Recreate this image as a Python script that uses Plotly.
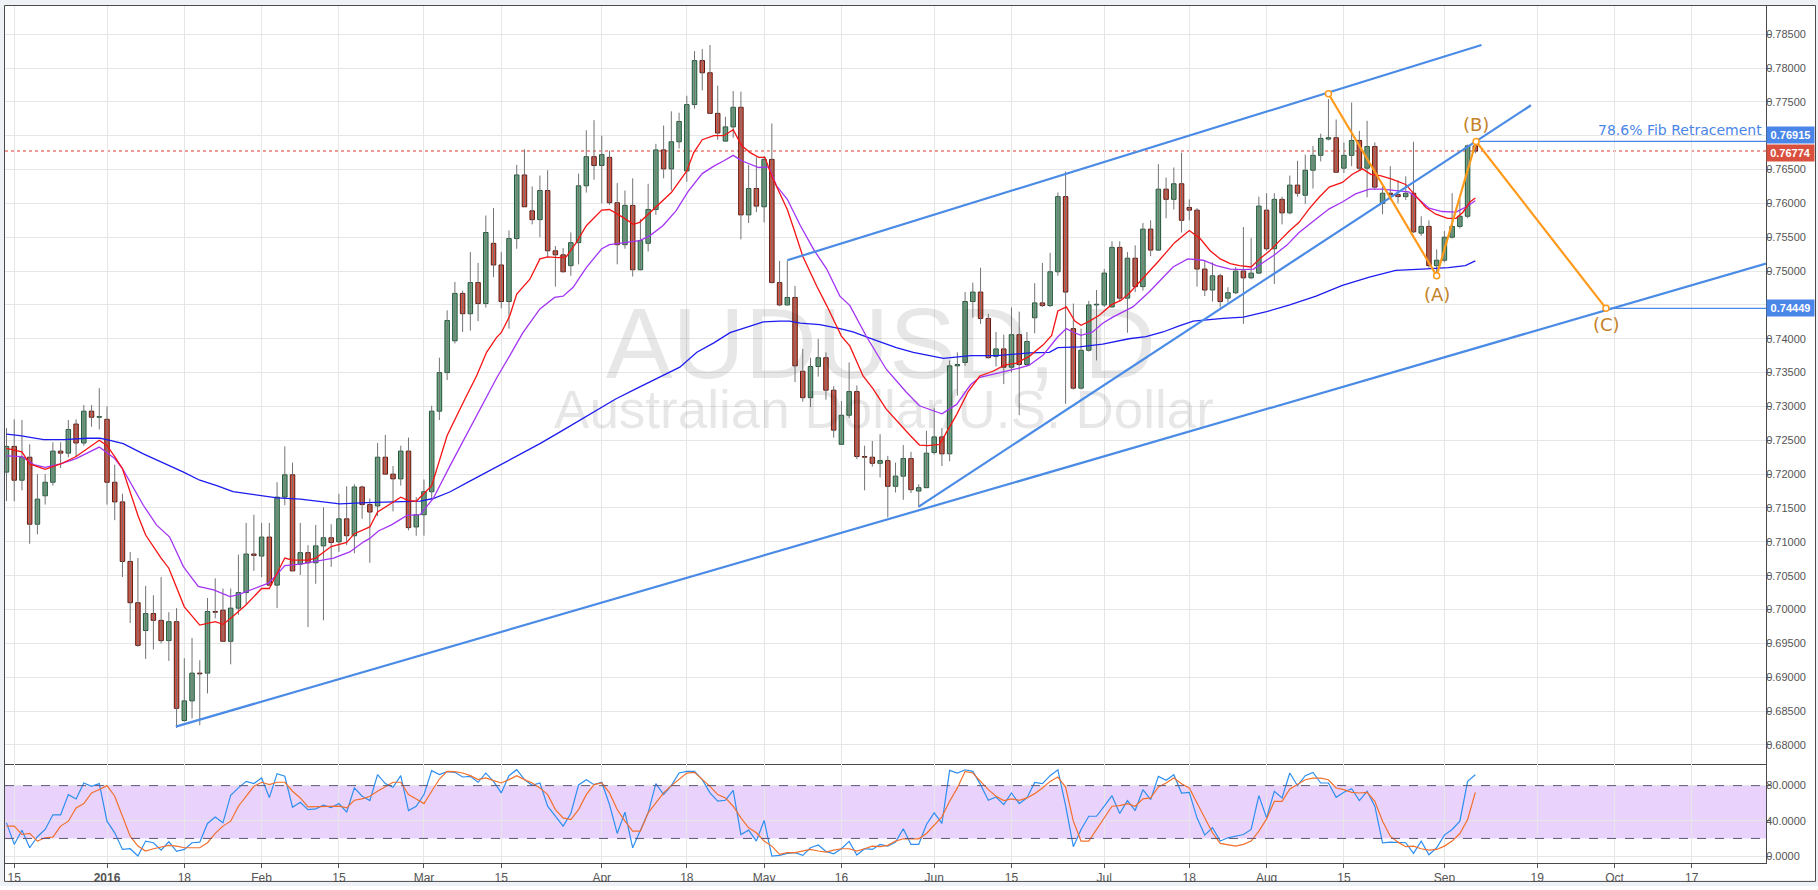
import plotly.graph_objects as go

# ---------------- data (daily AUDUSD, bar index 0 = 2015-12-14) ----------------
opens = [0.7203,0.7241,0.7191,0.7225,0.7126,0.7168,0.7188,0.7234,0.7231,0.7274,
0.7246,0.7293,0.7284,0.7281,0.7188,0.7159,0.7071,0.7010,0.6969,0.6994,
0.6984,0.6954,0.6982,0.6836,0.6865,0.6906,0.6906,0.6997,0.6999,0.6953,
0.7002,0.7025,0.7082,0.7079,0.7107,0.7036,0.7166,0.7199,0.7067,0.7084,
0.7069,0.7094,0.7106,0.7100,0.7134,0.7109,0.7181,0.7155,0.7153,0.7225,
0.7200,0.7193,0.7234,0.7122,0.7140,0.7174,0.7293,0.7350,0.7397,0.7467,
0.7437,0.7483,0.7452,0.7541,0.7509,0.7455,0.7548,0.7642,0.7589,0.7576,
0.7619,0.7530,0.7524,0.7508,0.7542,0.7626,0.7669,0.7656,0.7668,0.7601,
0.7539,0.7597,0.7502,0.7541,0.7591,0.7679,0.7651,0.7691,0.7648,0.7746,
0.7811,0.7793,0.7733,0.7692,0.7713,0.7742,0.7583,0.7622,0.7595,0.7665,
0.7483,0.7450,0.7461,0.7352,0.7313,0.7359,0.7372,0.7324,0.7244,0.7287,
0.7322,0.7226,0.7225,0.7216,0.7220,0.7182,0.7197,0.7223,0.7175,0.7180,
0.7232,0.7255,0.7230,0.7360,0.7365,0.7455,0.7469,0.7430,0.7374,0.7385,
0.7358,0.7406,0.7362,0.7431,0.7453,0.7449,0.7499,0.7610,0.7415,0.7327,
0.7383,0.7450,0.7450,0.7447,0.7535,0.7460,0.7519,0.7477,0.7562,0.7531,
0.7621,0.7606,0.7629,0.7594,0.7590,0.7503,0.7472,0.7493,0.7460,0.7468,
0.7500,0.7490,0.7497,0.7590,0.7533,0.7606,0.7586,0.7627,0.7612,0.7649,
0.7671,0.7695,0.7697,0.7652,0.7671,0.7693,0.7652,0.7684,0.7600,0.7615,
0.7613,0.7610,0.7615,0.7556,0.7566,0.7508,0.7516,0.7550,0.7566,0.7581,
0.7685]
highs = [0.7268,0.7281,0.7280,0.7244,0.7200,0.7200,0.7247,0.7247,0.7280,0.7281,
0.7302,0.7302,0.7327,0.7300,0.7214,0.7171,0.7085,0.7076,0.7035,0.7021,
0.7048,0.6996,0.7002,0.6928,0.6958,0.6925,0.7017,0.7046,0.7031,0.7031,
0.7081,0.7128,0.7140,0.7128,0.7128,0.7188,0.7241,0.7217,0.7128,0.7095,
0.7125,0.7151,0.7126,0.7171,0.7182,0.7185,0.7183,0.7164,0.7246,0.7258,
0.7212,0.7242,0.7254,0.7166,0.7192,0.7301,0.7372,0.7442,0.7484,0.7471,
0.7528,0.7512,0.7582,0.7593,0.7528,0.7560,0.7657,0.7680,0.7625,0.7641,
0.7649,0.7537,0.7534,0.7557,0.7644,0.7708,0.7723,0.7700,0.7678,0.7630,
0.7619,0.7637,0.7577,0.7629,0.7688,0.7715,0.7736,0.7734,0.7759,0.7825,
0.7828,0.7834,0.7774,0.7728,0.7766,0.7765,0.7657,0.7668,0.7670,0.7718,
0.7515,0.7515,0.7478,0.7385,0.7372,0.7400,0.7380,0.7330,0.7308,0.7365,
0.7331,0.7242,0.7249,0.7259,0.7227,0.7217,0.7243,0.7233,0.7185,0.7264,
0.7298,0.7268,0.7368,0.7380,0.7469,0.7483,0.7505,0.7437,0.7410,0.7406,
0.7446,0.7440,0.7410,0.7482,0.7512,0.7527,0.7616,0.7647,0.7452,0.7415,
0.7456,0.7472,0.7503,0.7544,0.7544,0.7528,0.7538,0.7571,0.7575,0.7658,
0.7638,0.7653,0.7675,0.7606,0.7593,0.7516,0.7513,0.7496,0.7476,0.7506,
0.7565,0.7549,0.7610,0.7615,0.7615,0.7610,0.7641,0.7663,0.7672,0.7685,
0.7703,0.7754,0.7724,0.7690,0.7749,0.7707,0.7722,0.7690,0.7625,0.7655,
0.7634,0.7640,0.7691,0.7581,0.7575,0.7532,0.7559,0.7615,0.7606,0.7687,
0.76915]
lows = [0.7160,0.7160,0.7176,0.7097,0.7111,0.7155,0.7183,0.7209,0.7225,0.7225,
0.7242,0.7270,0.7266,0.7155,0.7132,0.7048,0.6980,0.6945,0.6927,0.6941,
0.6950,0.6924,0.6825,0.6834,0.6839,0.6829,0.6876,0.6987,0.6952,0.6919,
0.6992,0.7007,0.7057,0.7048,0.7036,0.7002,0.7154,0.7057,0.7051,0.6974,
0.7038,0.6984,0.7063,0.7085,0.7095,0.7083,0.7134,0.7069,0.7138,0.7199,
0.7145,0.7183,0.7117,0.7109,0.7109,0.7164,0.7280,0.7339,0.7393,0.7410,
0.7412,0.7426,0.7446,0.7491,0.7445,0.7415,0.7533,0.7595,0.7569,0.7550,
0.7520,0.7477,0.7498,0.7493,0.7510,0.7616,0.7635,0.7600,0.7598,0.7510,
0.7533,0.7492,0.7501,0.7529,0.7583,0.7637,0.7619,0.7681,0.7632,0.7740,
0.7767,0.7732,0.7694,0.7692,0.7697,0.7547,0.7571,0.7587,0.7572,0.7482,
0.7448,0.7449,0.7336,0.7307,0.7299,0.7344,0.7310,0.7254,0.7243,0.7283,
0.7222,0.7176,0.7211,0.7195,0.7136,0.7173,0.7162,0.7172,0.7151,0.7180,
0.7229,0.7212,0.7219,0.7316,0.7360,0.7431,0.7422,0.7371,0.7359,0.7333,
0.7350,0.7287,0.7359,0.7408,0.7447,0.7447,0.7493,0.7304,0.7325,0.7325,
0.7381,0.7368,0.7447,0.7446,0.7455,0.7409,0.7469,0.7471,0.7522,0.7530,
0.7578,0.7591,0.7557,0.7575,0.7477,0.7463,0.7455,0.7446,0.7454,0.7466,
0.7422,0.7488,0.7496,0.7530,0.7481,0.7569,0.7584,0.7610,0.7599,0.7622,
0.7662,0.7693,0.7645,0.7645,0.7655,0.7648,0.7609,0.7620,0.7584,0.7605,
0.7600,0.7605,0.7556,0.7552,0.7505,0.7490,0.7513,0.7548,0.7563,0.7578,
0.7674]
closes = [0.7241,0.7191,0.7225,0.7126,0.7163,0.7188,0.7234,0.7231,0.7266,0.7246,
0.7293,0.7284,0.7285,0.7188,0.7159,0.7071,0.7010,0.6947,0.6994,0.6984,
0.6954,0.6982,0.6854,0.6865,0.6906,0.6905,0.6997,0.6996,0.6953,0.7002,
0.7025,0.7082,0.7080,0.7107,0.7036,0.7166,0.7199,0.7057,0.7084,0.7069,
0.7094,0.7106,0.7099,0.7134,0.7109,0.7181,0.7155,0.7144,0.7225,0.7200,
0.7193,0.7234,0.7121,0.7140,0.7174,0.7293,0.7350,0.7427,0.7467,0.7437,
0.7483,0.7452,0.7557,0.7509,0.7455,0.7548,0.7642,0.7595,0.7576,0.7619,
0.7530,0.7524,0.7499,0.7542,0.7626,0.7669,0.7656,0.7672,0.7601,0.7539,
0.7597,0.7502,0.7545,0.7591,0.7679,0.7651,0.7691,0.7721,0.7746,0.7811,
0.7793,0.7733,0.7704,0.7713,0.7742,0.7583,0.7622,0.7596,0.7665,0.7483,
0.7450,0.7461,0.7360,0.7313,0.7359,0.7372,0.7324,0.7265,0.7287,0.7322,
0.7226,0.7225,0.7216,0.7220,0.7182,0.7197,0.7223,0.7177,0.7180,0.7231,
0.7255,0.7230,0.7360,0.7362,0.7455,0.7469,0.7430,0.7372,0.7385,0.7358,
0.7406,0.7362,0.7396,0.7453,0.7449,0.7499,0.7610,0.7469,0.7327,0.7383,
0.7450,0.7451,0.7497,0.7535,0.7460,0.7519,0.7477,0.7562,0.7531,0.7621,
0.7606,0.7629,0.7575,0.7590,0.7503,0.7472,0.7493,0.7455,0.7468,0.7500,
0.7490,0.7497,0.7596,0.7533,0.7606,0.7586,0.7627,0.7615,0.7649,0.7671,
0.7696,0.7697,0.7646,0.7671,0.7693,0.7652,0.7684,0.7624,0.7615,0.7613,
0.7610,0.7615,0.7558,0.7566,0.7508,0.7516,0.7550,0.7566,0.7581,0.7685,
0.76774]

# moving averages (bar index, value)
fast_ma_x = [0,2,3,5,7,9,12,13,14,15,17,18,20,21,23,25,27,28,29,31,33,34,36,37,39,40,42,44,45,47,48,51,52,53,55,57,
59.3,60.8,62.1,63.4,64,65.1,66,67.7,69,70,71.4,72.4,73.7,75,77,78,79.8,81.1,81.9,83.2,84.5,86,88,
88.9,90,91.5,92.8,94,95.1,96.2,97.3,98.1,99,101,102,103,104.8,106.1,108,109.1,110.8,112.1,113.8,115.1,116.9,118.1,119.2,120.7,
121.2,122.9,124.4,125.9,127.6,129.1,130.6,132.3,134.1,135.2,136,137.1,138.2,139,140.1,141.4,142.9,144.2,145.2,147,148.9,151.1,153,
154.4,155.7,157,158.3,159.5,161,162.1,163.4,164.7,166,167.2,168.5,169.8,171.1,172.8,174.1,175.4,176.5,177.7,179.2,181,182.3,183.6,184.9,186.4,187.5,188.4,189.3,190]
fast_ma = [0.7238,0.7233,0.7215,0.7207,0.7215,0.7226,0.7250,0.7242,0.7226,0.7208,0.7139,0.7110,0.7076,0.7061,0.7004,0.6977,0.6982,0.6978,0.6987,0.7007,0.7031,0.7031,0.7076,0.7073,0.7073,0.7076,0.7093,0.7099,0.7112,0.7122,0.7144,0.7166,0.7161,0.7160,0.7183,0.7257,
0.7311,0.7345,0.7380,0.7402,0.7409,0.7434,0.7466,0.7488,0.7518,0.7521,0.7520,0.7521,0.7542,0.7567,0.7590,0.7591,0.7579,0.7569,0.7572,0.7586,0.7599,0.7616,0.7648,
0.7675,0.7694,0.7700,0.7700,0.7709,0.7685,0.7675,0.7668,0.7668,0.7640,0.7591,0.7557,0.7522,0.7478,0.7449,0.7404,0.7389,0.7345,0.7326,0.7296,0.7279,0.7257,0.7243,0.7242,0.7244,
0.7254,0.7288,0.7322,0.7345,0.7352,0.7361,0.7364,0.7374,0.7391,0.7405,0.7441,0.7447,0.7426,0.7420,0.7426,0.7435,0.7450,0.7457,0.7467,0.7489,0.7513,0.7542,0.7560,
0.7548,0.7530,0.7518,0.7511,0.7508,0.7506,0.7518,0.7530,0.7545,0.7560,0.7572,0.7592,0.7609,0.7624,0.7631,0.7643,0.7651,0.7643,0.7641,0.7636,0.7628,0.7611,0.7594,0.7584,0.7578,0.7578,0.7587,0.7602,0.7608]

mid_ma_x = [0,2,3.5,5,7,9,12,13,14,15,17.7,19.4,21.1,22.9,24.8,26.8,28.9,30,31.9,33.9,35,36,38,40.1,42.3,44.4,46.2,47,48.1,49.8,51.8,53.5,55.2,57.4,
61.9,63.4,65.1,66.8,69,70.9,72,73.3,75,77,78,79.8,81.9,83.2,84.9,86.6,88.2,
90,91.5,92.8,94,95.1,96.2,97.3,98.6,99.6,101,102.7,104.4,106.1,107.8,109.1,111.2,113.8,116.4,118.1,119.8,
121,122.9,124.7,125.9,128.1,129.8,131.1,132.3,134.1,136,137.1,137.9,139,140.5,141.8,143.1,145.7,147.8,149.1,150.9,152.8,
154.8,156.5,158.3,160,161.3,162.6,163.9,165.6,167.2,169.4,171.1,172.8,174.5,176.3,178,179.7,181.4,182.7,184,185.7,187.5,188.7,190]
mid_ma = [0.7227,0.7226,0.7214,0.7210,0.7215,0.7223,0.7240,0.7232,0.7223,0.7208,0.7154,0.7125,0.7107,0.7063,0.7034,0.7029,0.7019,0.7022,0.7030,0.7039,0.7052,0.7065,0.7067,0.7071,0.7076,0.7085,0.7100,0.7105,0.7116,0.7125,0.7139,0.7140,0.7164,0.7213,
0.7311,0.7342,0.7375,0.7409,0.7444,0.7461,0.7463,0.7476,0.7505,0.7533,0.7539,0.7542,0.7545,0.7552,0.7567,0.7589,0.7618,
0.7644,0.7655,0.7663,0.7671,0.7663,0.7658,0.7653,0.7654,0.7626,0.7606,0.7567,0.7532,0.7503,0.7463,0.7449,0.7404,0.7355,0.7321,0.7301,0.7294,
0.7289,0.7303,0.7332,0.7343,0.7349,0.7353,0.7357,0.7361,0.7376,0.7403,0.7415,0.7410,0.7405,0.7410,0.7423,0.7432,0.7447,0.7469,0.7484,0.7506,0.7518,
0.7516,0.7508,0.7503,0.7502,0.7503,0.7513,0.7523,0.7538,0.7557,0.7577,0.7592,0.7602,0.7614,0.7621,0.7621,0.7619,0.7617,0.7606,0.7593,0.7588,0.7587,0.7594,0.7604]

slow_ma_x = [0,1.75,4.8,7.5,10.4,12.1,13.4,15.1,17.7,20.7,22.9,25,27.2,29.3,32.8,35,38,41,43.1,46.6,
50.9,53.5,55.2,57.4,60,63,66,69,72,75,78.8,81.4,84.9,87.1,89.3,91.5,93.6,95.8,97.9,100,
101.3,102.7,105.2,107.8,109.5,112.1,115.1,117.3,119.5,121.2,124.7,128.1,132.3,134.9,136,138.8,141.8,145.2,147.4,149.6,
151.7,153.5,157.4,160,163,166,169.4,172.8,176.3,179.7,183.1,186.5,188.7,190]
slow_ma = [0.7259,0.7257,0.7251,0.7251,0.7253,0.7253,0.7250,0.7245,0.7230,0.7215,0.7203,0.7191,0.7183,0.7174,0.7169,0.7165,0.7163,0.7159,0.7156,0.7158,
0.7159,0.7160,0.7164,0.7174,0.7190,0.7208,0.7226,0.7245,0.7265,0.7285,0.7311,0.7326,0.7345,0.7358,0.7380,0.7394,0.7409,0.7417,0.7425,0.7426,
0.7426,0.7423,0.7421,0.7415,0.7410,0.7399,0.7387,0.7380,0.7375,0.7371,0.7375,0.7375,0.7379,0.7380,0.7387,0.7388,0.7392,0.7400,0.7403,0.7410,
0.7419,0.7426,0.7430,0.7432,0.7440,0.7450,0.7463,0.7479,0.7491,0.7501,0.7503,0.7505,0.7508,0.7515]

# stochastic %K / %D (one value per bar)
stoch_k = [37.7,13.2,29.4,9.4,21.9,30.2,46.8,46.8,69.8,64.9,
83.0,79.2,82.3,39.6,26.4,7.5,8.3,0,17.0,15.1,
6.8,16.2,5.3,7.5,15.1,15.8,37.0,44.2,37.7,69.1,
77.4,84.9,82.3,88.7,66.4,93.6,90.6,55.5,61.1,52.8,
53.6,57.7,55.1,59.6,49.8,77.4,67.9,63.0,92.5,82.3,
78.1,91.3,51.7,56.6,69.8,97.0,92.5,95.8,95.1,89.8,
90.6,83.8,94.3,84.9,71.7,91.3,98.1,86.8,80.4,83.0,
56.6,45.3,34.0,48.3,80.8,86.8,81.1,83.8,58.5,25.7,
49.8,9.4,28.3,49.1,82.3,69.8,80.0,94.3,96.2,96.2,
86.8,71.7,62.3,63.4,74.7,24.5,29.4,17.0,40.4,0,
0.8,3.0,3.8,0.8,9.4,12.5,5.3,2.6,8.3,16.6,
1.1,8.3,7.5,13.2,11.3,15.8,30.9,13.2,13.2,35.8,
49.0,37.0,97.3,94.3,98.0,96.2,81.1,63.3,67.1,58.4,
71.6,59.6,66.0,83.7,82.2,91.3,98.0,57.3,10.6,30.2,
45.2,45.2,56.6,68.6,48.3,63.0,51.7,75.4,64.1,90.5,
86.0,92.4,71.6,72.4,43.4,23.8,32.1,17.0,20.7,22.6,
24.5,30.2,68.6,43.4,73.5,66.0,94.3,79.9,91.3,95.0,
83.0,83.0,66.7,72.4,76.5,63.0,73.5,56.6,15.1,15.8,
15.8,15.1,3.0,17.0,1.5,9.4,23.8,30.2,39.6,84.8,
92.4]
stoch_d = [34.0,34.0,24.5,25.7,17.0,20.8,21.5,34.0,39.6,54.7,
59.6,71.7,75.5,80.0,67.9,45.3,22.6,11.3,5.7,8.3,
10.6,12.1,11.3,9.4,9.4,9.4,15.1,25.7,34.0,39.6,
56.6,67.9,79.2,83.8,81.1,83.8,83.8,73.6,66.0,55.8,
55.8,55.8,56.6,56.6,54.7,63.4,64.9,67.9,73.6,79.2,
83.8,83.8,69.8,64.9,59.6,73.6,87.5,96.2,95.8,94.3,
91.3,86.8,88.7,85.7,83.0,86.8,91.3,86.8,83.0,77.4,
69.8,52.8,43.4,41.5,52.8,69.8,81.1,83.0,71.7,52.8,
39.6,28.3,28.3,49.1,60.4,71.7,80.0,86.8,94.3,95.1,
87.5,79.2,69.8,66.0,56.6,43.4,32.1,26.4,17.0,11.3,
1.9,3.8,3.8,5.7,7.5,5.7,4.5,6.8,8.3,8.3,
5.7,8.3,11.3,10.6,12.1,17.0,19.6,19.6,19.6,25.6,
34.7,44.5,62.2,77.4,96.2,94.3,84.8,75.4,67.9,63.0,
64.9,63.3,66.0,70.9,77.4,84.8,89.7,78.4,39.6,17.0,
17.0,30.2,43.4,56.6,57.3,59.6,56.6,64.9,66.0,78.4,
83.0,88.6,82.2,77.3,60.3,43.4,26.4,14.3,13.2,11.3,
13.2,17.0,28.3,42.2,62.2,62.2,76.2,81.1,86.7,88.6,
88.6,86.7,77.3,75.4,72.4,71.6,72.4,62.2,39.6,22.6,
15.8,10.6,11.3,8.3,6.8,7.5,11.3,17.0,25.6,41.5,
72.4]

# drawings (bar index, price)
support_x = [21.9, 227.6];  support_y = [0.6827, 0.7511]
channel_x = [101.0, 190.8]; channel_y = [0.7516, 0.7834]
wedge_x = [118.0, 197.2];   wedge_y = [0.7152, 0.7745]
abc_x = [171.0, 185.0, 190.1, 206.9]
abc_y = [0.7762, 0.7493, 0.76915, 0.74449]
abc_labels = ["(A)", "(B)", "(C)"]
abc_label_x = [185.0, 190.1, 207.0]
abc_label_y = [0.74650, 0.77160, 0.74210]
fib_level = 0.76915
target_level = 0.74449
last_price = 0.76774

tick_idx = [1, 13, 23, 33, 43, 54, 64, 77, 88, 98, 108, 120, 130, 142, 153, 163, 173, 186, 198, 208, 218]
tick_text = ["15", "<b>2016</b>", "18", "Feb", "15", "Mar", "15", "Apr", "18", "May", "16",
             "Jun", "15", "Jul", "18", "Aug", "15", "Sep", "19", "Oct", "17"]
price_ticks = [round(0.680 + 0.005 * k, 3) for k in range(22)]
hidden_price_labels = [0.770, 0.745]   # covered by the price boxes in the original

# ---------------- figure ----------------
X0, X1 = -0.194, 227.6
FONT = "Liberation Sans, Arial, sans-serif"
GRID = "#e6e6e6"
FRAME = "#4a4a4a"
TXT = "#555555"

xs = list(range(len(opens)))
UP_FILL, UP_LINE = "#6ba583", "#225437"
DN_FILL, DN_LINE = "#d75442", "#5b1a13"
body_base = [min(o, c) for o, c in zip(opens, closes)]
body_h = [max(abs(c - o), 0.00004) for o, c in zip(opens, closes)]
fills = [UP_FILL if c >= o else DN_FILL for o, c in zip(opens, closes)]
edges = [UP_LINE if c >= o else DN_LINE for o, c in zip(opens, closes)]
wick_x, wick_y = [], []
for i in xs:
    wick_x += [i, i, None]
    wick_y += [lows[i], highs[i], None]

price_ticktext = ["" if v in hidden_price_labels else "%.5f" % v for v in price_ticks]

fig = go.Figure()

# watermark
fig.add_trace(go.Scatter(x=[113.1], y=[0.73790], mode="text", text=["AUDUSD, D"],
                         textfont=dict(family=FONT, size=100, color="rgba(0,0,0,0.095)"),
                         textposition="middle center", hoverinfo="skip"))
fig.add_trace(go.Scatter(x=[113.5], y=[0.72870], mode="text", text=["Australian Dollar/U.S. Dollar"],
                         textfont=dict(family=FONT, size=53, color="rgba(0,0,0,0.095)"),
                         textposition="middle center", hoverinfo="skip"))

# candles
fig.add_trace(go.Scatter(x=wick_x, y=wick_y, mode="lines",
                         line=dict(color="#737375", width=1), hoverinfo="skip"))
fig.add_trace(go.Bar(x=xs, y=body_h, base=body_base, width=0.58,
                     marker=dict(color=fills, line=dict(color=edges, width=1))))

# moving averages
fig.add_trace(go.Scatter(x=slow_ma_x, y=slow_ma, mode="lines", line=dict(color="#1c1cf0", width=1.3)))
fig.add_trace(go.Scatter(x=mid_ma_x, y=mid_ma, mode="lines", line=dict(color="#a335f5", width=1.3)))
fig.add_trace(go.Scatter(x=fast_ma_x, y=fast_ma, mode="lines", line=dict(color="#f51414", width=1.3)))

# trend lines
TL = "#4a8be6"
for lx, ly in [(support_x, support_y), (channel_x, channel_y), (wedge_x, wedge_y)]:
    fig.add_trace(go.Scatter(x=lx, y=ly, mode="lines", line=dict(color=TL, width=2.2)))

# fib and target horizontal lines
fig.add_trace(go.Scatter(x=[abc_x[2], X1], y=[fib_level, fib_level], mode="lines",
                         line=dict(color="#4a86e8", width=1.2)))
fig.add_trace(go.Scatter(x=[abc_x[3], X1], y=[target_level, target_level], mode="lines",
                         line=dict(color="#4a86e8", width=1.2)))

# ABC pattern
fig.add_trace(go.Scatter(x=abc_x, y=abc_y, mode="lines+markers",
                         line=dict(color="#ff9a1a", width=2.2),
                         marker=dict(symbol="circle", size=6, color="white",
                                     line=dict(color="#ff9a1a", width=1.5))))

# stochastic
fig.add_trace(go.Scatter(x=xs, y=stoch_k, mode="lines", line=dict(color="#2e8ff0", width=1.2),
                         xaxis="x2", yaxis="y2"))
fig.add_trace(go.Scatter(x=xs, y=stoch_d, mode="lines", line=dict(color="#f2702c", width=1.2),
                         xaxis="x2", yaxis="y2"))

# ---------------- layout ----------------
W, H = 1818, 890
ML, MR, MT, MB = 5, 52, 5, 23
PW, PH = W - ML - MR, H - MT - MB
split = (867 - 767.5) / PH

def px_x(p):
    return (p - ML) / PW

def px_y(p):
    return (H - MB - p) / PH

shapes = [
    dict(type="rect", xref="x2 domain", yref="y2", x0=0, x1=1, y0=20, y1=80,
         fillcolor="#e9d3fc", line=dict(width=0), layer="below"),
    dict(type="line", xref="x2 domain", yref="y2", x0=0, x1=1, y0=80, y1=80,
         line=dict(color="#5f5878", width=1, dash="dash")),
    dict(type="line", xref="x2 domain", yref="y2", x0=0, x1=1, y0=20, y1=20,
         line=dict(color="#5f5878", width=1, dash="dash")),
    dict(type="line", xref="x domain", yref="y", x0=0, x1=1, y0=last_price, y1=last_price,
         line=dict(color="#e0392e", width=1, dash="dot"), layer="below"),
    # outer frame
    dict(type="rect", xref="paper", yref="paper", x0=px_x(4.5), x1=px_x(1815.5),
         y0=px_y(885.5), y1=px_y(5.5), line=dict(color=FRAME, width=1), fillcolor="rgba(0,0,0,0)"),
    # light strips outside frame
    dict(type="rect", xref="paper", yref="paper", x0=px_x(0), x1=px_x(W), y0=px_y(5), y1=px_y(0),
         fillcolor="#eef1f5", line=dict(width=0)),
    dict(type="rect", xref="paper", yref="paper", x0=px_x(0), x1=px_x(W), y0=px_y(H), y1=px_y(886),
         fillcolor="#eef1f5", line=dict(width=0)),
    dict(type="rect", xref="paper", yref="paper", x0=px_x(0), x1=px_x(4), y0=px_y(H), y1=px_y(0),
         fillcolor="#eef1f5", line=dict(width=0)),
    dict(type="rect", xref="paper", yref="paper", x0=px_x(1816), x1=px_x(W), y0=px_y(H), y1=px_y(0),
         fillcolor="#eef1f5", line=dict(width=0)),
]

annotations = []
for t, ax, ay in zip(abc_labels, abc_label_x, abc_label_y):
    annotations.append(dict(x=ax, y=ay, xref="x", yref="y", text=t, showarrow=False,
                            font=dict(family="DejaVu Sans, Verdana", size=18, color="#c4822a")))
annotations.append(dict(x=227.3, y=fib_level, xref="x", yref="y", xanchor="right", yanchor="bottom",
                        yshift=1, text="78.6% Fib Retracement", showarrow=False,
                        font=dict(family="DejaVu Sans, Verdana", size=14, color="#4a86e8")))
for val, col, shift in [(fib_level, "#4a86e8", 6), (last_price, "#d9503f", -2), (target_level, "#4a86e8", 0)]:
    annotations.append(dict(x=1, xref="paper", xanchor="left", xshift=0, y=val, yref="y", yshift=shift,
                            text="<b>%.5f</b>" % val, showarrow=False, bgcolor=col,
                            font=dict(family=FONT, size=11, color="white"),
                            width=45, height=14, borderpad=1, align="center"))

fig.update_layout(
    width=W, height=H,
    margin=dict(l=ML, r=MR, t=MT, b=MB),
    paper_bgcolor="white", plot_bgcolor="white",
    showlegend=False, barmode="overlay", hovermode=False,
    font=dict(family=FONT, size=12, color=TXT),
    xaxis=dict(domain=[0, 1], anchor="y", range=[X0, X1], tickvals=tick_idx, showticklabels=False,
               ticks="", showgrid=True, gridcolor=GRID, zeroline=False,
               showline=True, linecolor=FRAME, linewidth=1),
    yaxis=dict(domain=[split, 1], anchor="x", side="right", range=[0.67718, 0.78931],
               tickvals=price_ticks, ticktext=price_ticktext, ticks="outside", ticklen=4, tickcolor=TXT,
               ticklabelstandoff=-7,
               showgrid=True, gridcolor=GRID, zeroline=False, showline=True, linecolor=FRAME,
               linewidth=1, tickfont=dict(size=11, color=TXT)),
    xaxis2=dict(domain=[0, 1], anchor="y2", range=[X0, X1], matches="x", tickvals=tick_idx,
                ticktext=tick_text, ticks="outside", ticklen=4, tickcolor=TXT, showgrid=True,
                gridcolor=GRID, zeroline=False, showline=True, linecolor=FRAME, linewidth=1,
                tickfont=dict(size=12, color=TXT)),
    yaxis2=dict(domain=[0, split], anchor="x2", side="right", range=[-7.9, 104.6],
                tickvals=[0, 40, 80], tickformat=".4f", ticks="outside", ticklen=4, tickcolor=TXT,
                ticklabelstandoff=-7,
                showgrid=True, gridcolor=GRID, zeroline=False, showline=True, linecolor=FRAME,
                linewidth=1, tickfont=dict(size=11, color=TXT)),
    shapes=shapes,
    annotations=annotations,
)

fig.write_html("out.html", config={"displayModeBar": False},
               post_script="document.body.style.margin='0';document.body.style.overflow='hidden';")
